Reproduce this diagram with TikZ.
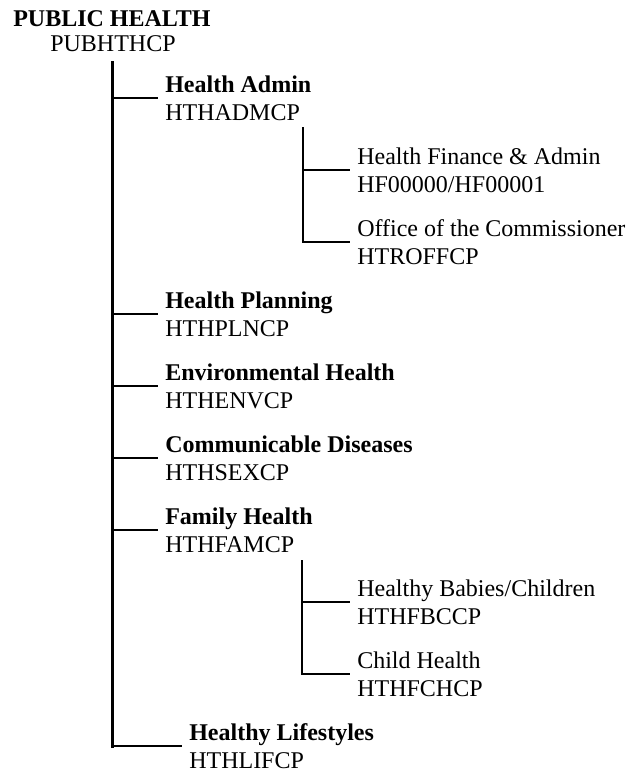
\documentclass[tikz,border=0pt]{standalone}
\usepackage{fontspec}
\setmainfont{Liberation Serif}
\newcommand{\itemfont}{\fontsize{18pt}{21pt}\selectfont}
\newcommand{\twoline}[2]{\begin{tabular}[t]{@{}l@{}}#1\\#2\end{tabular}}
\begin{document}
\begin{tikzpicture}[x=0.75pt,y=-0.75pt,
  item/.style={anchor=base west, inner xsep=5.25pt, inner ysep=0pt, font=\itemfont},
  trunk/.style={line width=2.25pt, line cap=rect},
  branch/.style={line width=1.5pt},
  subtrunk/.style={line width=1.5pt, line cap=rect}]
\useasboundingbox (0,0) rectangle (629,772);

% root
\node[item] (root) at (6,26) {\begin{tabular}[t]{@{}l@{}}\textbf{PUBLIC HEALTH}\\[-2.25pt]\hspace*{27.75pt}PUBHTHCP\end{tabular}};

% first-level items
\node[item] (ha) at (158,92)  {\twoline{\textbf{Health Admin}}{HTHADMCP}};
\node[item] (hp) at (158,308) {\twoline{\textbf{Health Planning}}{HTHPLNCP}};
\node[item] (eh) at (158,380) {\twoline{\textbf{Environmental Health}}{HTHENVCP}};
\node[item] (cd) at (158,452) {\twoline{\textbf{Communicable Diseases}}{HTHSEXCP}};
\node[item] (fh) at (158,524) {\twoline{\textbf{Family Health}}{HTHFAMCP}};
\node[item] (hl) at (182,740) {\twoline{\textbf{Healthy Lifestyles}}{HTHLIFCP}};

% second-level items
\node[item] (hf) at (350,164) {\twoline{Health Finance \& Admin}{HF00000/HF00001}};
\node[item] (oc) at (350,236) {\twoline{Office of the Commissioner}{HTROFFCP}};
\node[item] (hb) at (350,596) {\twoline{Healthy Babies/Children}{HTHFBCCP}};
\node[item] (ch) at (350,668) {\twoline{Child Health}{HTHFCHCP}};

% trunk junctions
\coordinate (t0) at (112,62);
\coordinate (tA) at (112,98);
\coordinate (tP) at (112,314);
\coordinate (tE) at (112,386);
\coordinate (tC) at (112,458);
\coordinate (tF) at (112,530);
\coordinate (tL) at (112,746);

\draw[trunk] (t0) -- (tL);
\draw[branch] (tA) -- (tA -| ha.west);
\draw[branch] (tP) -- (tP -| hp.west);
\draw[branch] (tE) -- (tE -| eh.west);
\draw[branch] (tC) -- (tC -| cd.west);
\draw[branch] (tF) -- (tF -| fh.west);
\draw[branch] (tL) -- (tL -| hl.west);

% Health Admin sub-tree
\coordinate (a0) at (303,128);
\coordinate (a1) at (303,170);
\coordinate (a2) at (303,242);
\draw[subtrunk] (a0) -- (a2);
\draw[branch] (a1) -- (a1 -| hf.west);
\draw[branch] (a2) -- (a2 -| oc.west);

% Family Health sub-tree
\coordinate (f0) at (302,561);
\coordinate (f1) at (302,602);
\coordinate (f2) at (302,674);
\draw[subtrunk] (f0) -- (f2);
\draw[branch] (f1) -- (f1 -| hb.west);
\draw[branch] (f2) -- (f2 -| ch.west);
\end{tikzpicture}
\end{document}
